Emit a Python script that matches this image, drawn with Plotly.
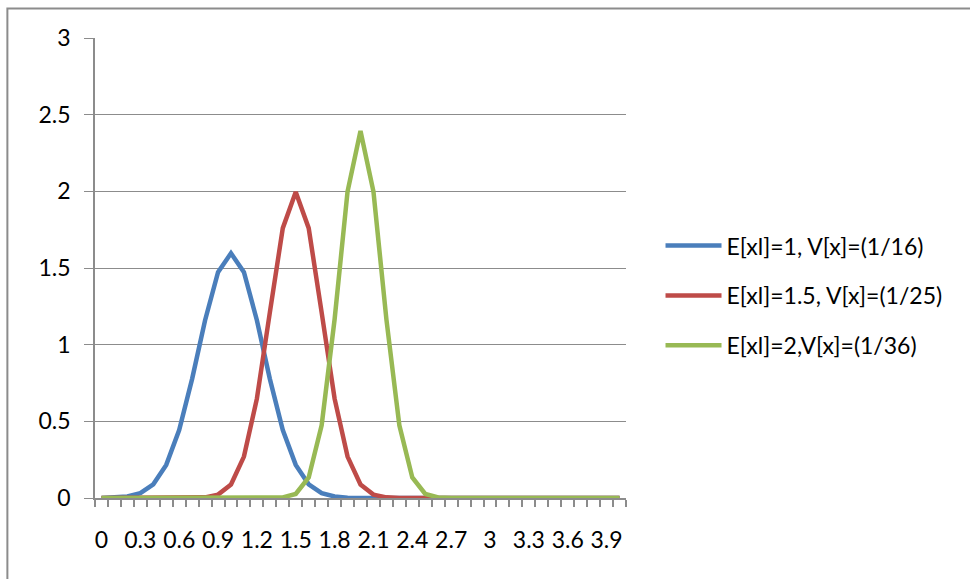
import plotly.graph_objects as go

x_vals = [round(i * 0.1, 1) for i in range(41)]

blue = [0.0005, 0.0024, 0.0095, 0.0317, 0.0895, 0.216, 0.443, 0.777, 1.159, 1.473,
        1.596, 1.473, 1.159, 0.777, 0.443, 0.216, 0.0895, 0.0317, 0.0095, 0.0024,
        0.0005, 0.0001, 0, 0, 0, 0, 0, 0, 0, 0,
        0, 0, 0, 0, 0, 0, 0, 0, 0, 0, 0]
red = [0, 0, 0, 0, 0, 0, 0.0001, 0.0007, 0.0044, 0.0222,
       0.0876, 0.270, 0.648, 1.210, 1.760, 1.995, 1.760, 1.210, 0.648, 0.270,
       0.0876, 0.0222, 0.0044, 0.0007, 0.0001, 0, 0, 0, 0, 0,
       0, 0, 0, 0, 0, 0, 0, 0, 0, 0, 0]
green = [0, 0, 0, 0, 0, 0, 0, 0, 0, 0,
         0, 0, 0.00002, 0.0004, 0.0037, 0.0266, 0.134, 0.474, 1.165, 1.999,
         2.394, 1.999, 1.165, 0.474, 0.134, 0.0266, 0.0037, 0.0004, 0.00002, 0,
         0, 0, 0, 0, 0, 0, 0, 0, 0, 0, 0]

names = ["E[xl]=1, V[x]=(1/16)", "E[xl]=1.5, V[x]=(1/25)", "E[xl]=2,V[x]=(1/36)"]
colors = ["#4A7EBB", "#BE4B48", "#98B954"]
series = [blue, red, green]

label_vals = [round(i * 0.3, 1) for i in range(14)]
label_text = ["0", "0.3", "0.6", "0.9", "1.2", "1.5", "1.8", "2.1", "2.4", "2.7",
              "3", "3.3", "3.6", "3.9"]

fig = go.Figure()
for i, (nm, c, s) in enumerate(zip(names, colors, series)):
    fig.add_trace(go.Scatter(x=x_vals, y=s, name=nm, mode="lines",
                             line=dict(color=c, width=4.5),
                             legendgroup=str(i)))

grid = "#8C8C8C"
fig.update_layout(
    width=970, height=579,
    margin=dict(l=95, r=344, t=38, b=81),
    paper_bgcolor="white", plot_bgcolor="white",
    font=dict(family="Lato", size=23, color="#000000"),
    showlegend=True,
    legend=dict(x=1.065, xanchor="left", y=0.44, yanchor="middle",
                tracegroupgap=17, font=dict(size=23), itemwidth=56,
                bgcolor="rgba(0,0,0,0)"),
    xaxis=dict(range=[-0.05, 4.05], tickmode="array", tickvals=label_vals,
               ticktext=label_text, ticks="", showgrid=False,
               showline=True, linecolor=grid, linewidth=1.5,
               ticklabelstandoff=21, zeroline=False,
               minor=dict(ticks="outside", tick0=-0.05, dtick=0.1, ticklen=7,
                          tickcolor=grid, tickwidth=1.5, showgrid=False)),
    yaxis=dict(range=[0, 3], dtick=0.5, showgrid=True, gridcolor=grid, gridwidth=1.2,
               ticks="outside", ticklen=9, tickcolor=grid, tickwidth=1.2,
               showline=True, linecolor=grid, linewidth=1.5, zeroline=False,
               ticklabelstandoff=9, tickformat="~g"),
    shapes=[dict(type="rect", xref="paper", yref="paper",
                 x0=-0.165, x1=2.0, y0=-0.3, y1=1.064,
                 line=dict(color="#8C8C8C", width=2), layer="below")],
)

fig.write_html("out.html")
